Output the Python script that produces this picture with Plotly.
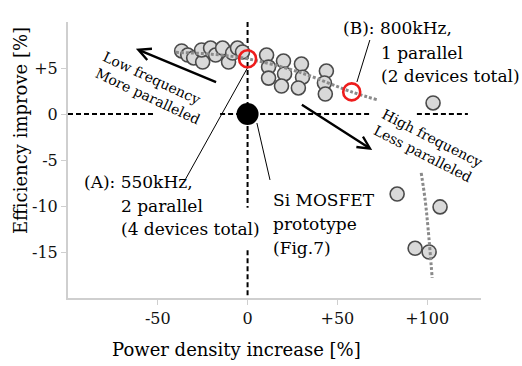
import plotly.graph_objects as go

# ---- data ----
gray_x = [-36.7, -33.3, -30.0, -25.0, -25.6, -20.6, -17.8, -13.9, -10.6, -8.3, -5.6, -2.8,
          10.6, 11.7, 11.7, 20.0, 20.6, 18.9, 30.0, 30.6, 28.3, 43.9, 42.8, 43.3,
          103.3, 83.3, 107.2, 93.3, 101.1]
gray_y = [6.85, 6.41, 6.09, 5.65, 6.96, 7.17, 6.41, 7.17, 5.65, 6.63, 7.17, 6.74,
          6.41, 5.1, 3.9, 5.76, 4.35, 3.04, 5.43, 4.0, 2.83, 4.67, 3.37, 2.17,
          1.2, -8.7, -10.1, -14.6, -15.0]
red_x = [0.0, 58.0]
red_y = [6.0, 2.4]
proto_x = [0.0]
proto_y = [0.0]
trend1_x = [-40, -20, 0, 28, 58, 73]
trend1_y = [6.7, 6.5, 6.0, 4.6, 2.4, 1.5]
trend2_x = [96.7, 98.9, 100.6, 102.8]
trend2_y = [-6.4, -9.35, -12.6, -17.8]
x_ticks = [-50, 0, 50, 100]
x_labels = ["-50", "0", "+50", "+100"]
y_ticks = [5, 0, -5, -10, -15]
y_labels = ["+5", "0", "-5", "-10", "-15"]

FONT = "DejaVu Serif"

fig = go.Figure()
fig.add_trace(go.Scatter(x=gray_x, y=gray_y, mode="markers",
                         marker=dict(size=14, color="#d9d9d9",
                                     line=dict(color="#4a4a4a", width=1.6)),
                         hoverinfo="skip"))
fig.add_trace(go.Scatter(x=trend1_x, y=trend1_y, mode="lines",
                         line=dict(color="#8a8a8a", width=3, dash="3px,2px", shape="spline"),
                         hoverinfo="skip"))
fig.add_trace(go.Scatter(x=trend2_x, y=trend2_y, mode="lines",
                         line=dict(color="#8a8a8a", width=3, dash="3px,2px", shape="spline"),
                         hoverinfo="skip"))
fig.add_trace(go.Scatter(x=red_x, y=red_y, mode="markers",
                         marker=dict(size=17, color="rgba(0,0,0,0)",
                                     line=dict(color="#ee1c1c", width=2.6)),
                         hoverinfo="skip"))
fig.add_trace(go.Scatter(x=proto_x, y=proto_y, mode="markers",
                         marker=dict(size=22, color="black", line=dict(width=0)),
                         hoverinfo="skip"))

shapes = []
dash = dict(color="black", width=2, dash="5px,3px")
for x0, x1 in [(-100, -51.6), (-15.3, 69.3), (94.3, 122.7)]:
    shapes.append(dict(type="line", xref="x", yref="y", x0=x0, x1=x1, y0=0, y1=0,
                       line=dash, layer="below"))
for y0, y1 in [(10, -10.2), (-14.8, -20)]:
    shapes.append(dict(type="line", xref="x", yref="y", x0=0, x1=0, y0=y0, y1=y1,
                       line=dash, layer="below"))
thin = dict(color="black", width=1)
for (x0, y0, x1, y1) in [(-34.8, -7.17, 0.2, 5.1), (5.2, -0.98, 12.5, -7.17),
                         (68.1, 8.04, 60.9, 3.48)]:
    shapes.append(dict(type="line", xref="x", yref="y", x0=x0, y0=y0, x1=x1, y1=y1,
                       line=thin, layer="below"))

annotations = []
def label(text, x, y, size=17):
    annotations.append(dict(text=text, x=x, y=y, xref="x", yref="y", showarrow=False,
                            xanchor="left", yanchor="middle",
                            font=dict(family=FONT, size=size, color="black")))

label("(A): 550kHz,", -92.3, -7.39)
label("2 parallel", -71.7, -10.0)
label("(4 devices total)", -71.7, -12.5)
label("Si MOSFET", 12.9, -9.35)
label("prototype", 12.9, -11.96)
label("(Fig.7)", 12.9, -14.57)
label("(B): 800kHz,", 51.9, 9.35)
label("1 parallel", 73.0, 6.63)
label("(2 devices total)", 73.0, 4.13)

annotations.append(dict(text="Low frequency<br>More paralleled", x=-53.2, y=2.88,
                        xref="x", yref="y", showarrow=False, textangle=25, align="left",
                        font=dict(family=FONT, size=14, color="black")))
annotations.append(dict(text="High frequency<br>Less paralleled", x=100.4, y=-3.48,
                        xref="x", yref="y", showarrow=False, textangle=27, align="left",
                        font=dict(family=FONT, size=14, color="black")))

for (hx, hy, tx, ty) in [(-62.2, 7.1, -16.7, 3.4), (69.4, -3.9, 29.4, 1.1)]:
    annotations.append(dict(text="", x=hx, y=hy, ax=tx, ay=ty, xref="x", yref="y",
                            axref="x", ayref="y", showarrow=True, arrowhead=5,
                            arrowsize=1, arrowwidth=2.4, arrowcolor="black", standoff=0))

annotations.append(dict(text="Power density increase [%]", x=0.409, y=-0.188,
                        xref="paper", yref="paper", showarrow=False,
                        xanchor="center", yanchor="middle",
                        font=dict(family=FONT, size=18, color="black")))
annotations.append(dict(text="Efficiency improve [%]", x=-0.116, y=0.605,
                        xref="paper", yref="paper", showarrow=False, textangle=-90,
                        xanchor="center", yanchor="middle",
                        font=dict(family=FONT, size=18, color="black")))

axis_common = dict(showgrid=False, zeroline=False, showline=True, linecolor="#cfcfcf",
                   linewidth=2, ticks="outside", tickcolor="#cfcfcf", ticklen=5,
                   tickwidth=1, tickfont=dict(family=FONT, size=16, color="#111"))

fig.update_layout(
    width=522, height=366,
    margin=dict(l=68, r=41, t=22, b=68),
    paper_bgcolor="white", plot_bgcolor="white",
    showlegend=False,
    shapes=shapes, annotations=annotations,
    xaxis=dict(range=[-100, 130], tickvals=x_ticks, ticktext=x_labels, **axis_common),
    yaxis=dict(range=[-20, 10], tickvals=y_ticks, ticktext=y_labels, **axis_common),
)

fig.write_html("out.html")
